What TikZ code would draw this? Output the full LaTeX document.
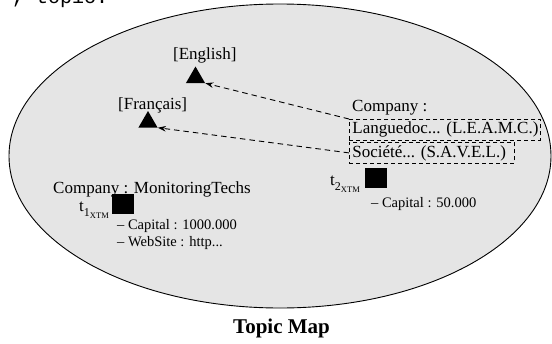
\documentclass[tikz,border=0pt]{standalone}
\usepackage{fontspec}
\setmainfont{Liberation Serif}
\newfontfamily\codefont{Liberation Mono}
\usetikzlibrary{shapes.geometric,arrows.meta}
% t_{n_{XTM}} style subscripts
\newcommand\xtmsub[1]{\raisebox{-5pt}{\fontsize{12}{12}\selectfont #1\raisebox{-2.5pt}{\fontsize{8.5}{8.5}\selectfont XTM}}}
\begin{document}
\begin{tikzpicture}[x=1pt,y=-1pt,
  base/.style={inner sep=0pt, anchor=base west, font=\fontsize{17}{20}\selectfont},
  small/.style={base, font=\fontsize{14.5}{17}\selectfont},
  marker/.style={regular polygon, regular polygon sides=3, fill=black,
    minimum size=22pt, inner sep=0pt},
  topicbox/.style={fill=black, minimum width=22pt, minimum height=20pt, inner sep=0pt},
  namebox/.style={draw, dash pattern=on 4pt off 3pt, line width=0.8pt,
    anchor=north west, inner xsep=3pt, inner ysep=0pt, minimum height=21pt,
    font=\fontsize{17}{20}\selectfont},
  link/.style={draw, dash pattern=on 5.5pt off 4pt, line width=0.9pt,
    -{Stealth[length=8pt,width=5.5pt]}},
]
\clip (0,0) rectangle (552,343);

% the topic map area
\draw[fill=black!10, line width=0.9pt] (280,156) ellipse [x radius=271, y radius=152];

% tail of the preceding line of text
\node[base, font=\codefont\fontsize{20}{20}\selectfont] (frag) at (12,3.5) {, topic.};

% scope themes
\node[base] (enlbl) at (173,59) {[English]};
\node[marker] (entri) at (195.5,77.5) {};
\node[base] (frlbl) at (118,109) {[Français]};
\node[marker] (frtri) at (148,122) {};

% topic t2 with its scoped names
\node[base] (co2) at (352,111) {Company :};
\node[namebox] (lang) at (349,119) {\makebox[185pt][l]{Languedoc... (L.E.A.M.C.)}};
\node[namebox] (soc) at (349,142) {\makebox[159pt][l]{Société... (S.A.V.E.L.)}};
\node[base] (t2lbl) at (330,185) {t\xtmsub{2}};
\node[topicbox] (t2) at (376,178) {};
\node[small] (cap2) at (371,207) {\textendash{} Capital : 50.000};

% topic t1
\node[base] (co1) at (53,193) {Company : MonitoringTechs};
\node[base] (t1lbl) at (79,211) {t\xtmsub{1}};
\node[topicbox] (t1) at (123,204) {};
\node[small] (cap1) at (117,229) {\textendash{} Capital : 1000.000};
\node[small] (web1) at (117,246) {\textendash{} WebSite : http...};

% name-to-scope links
\draw[link] (lang.north west) -- (entri.corner 3);
\draw[link] (soc.west) -- (frtri.corner 3);

\node[base, font=\bfseries\fontsize{21}{24}\selectfont] (title) at (233,333) {Topic Map};
\end{tikzpicture}
\end{document}
